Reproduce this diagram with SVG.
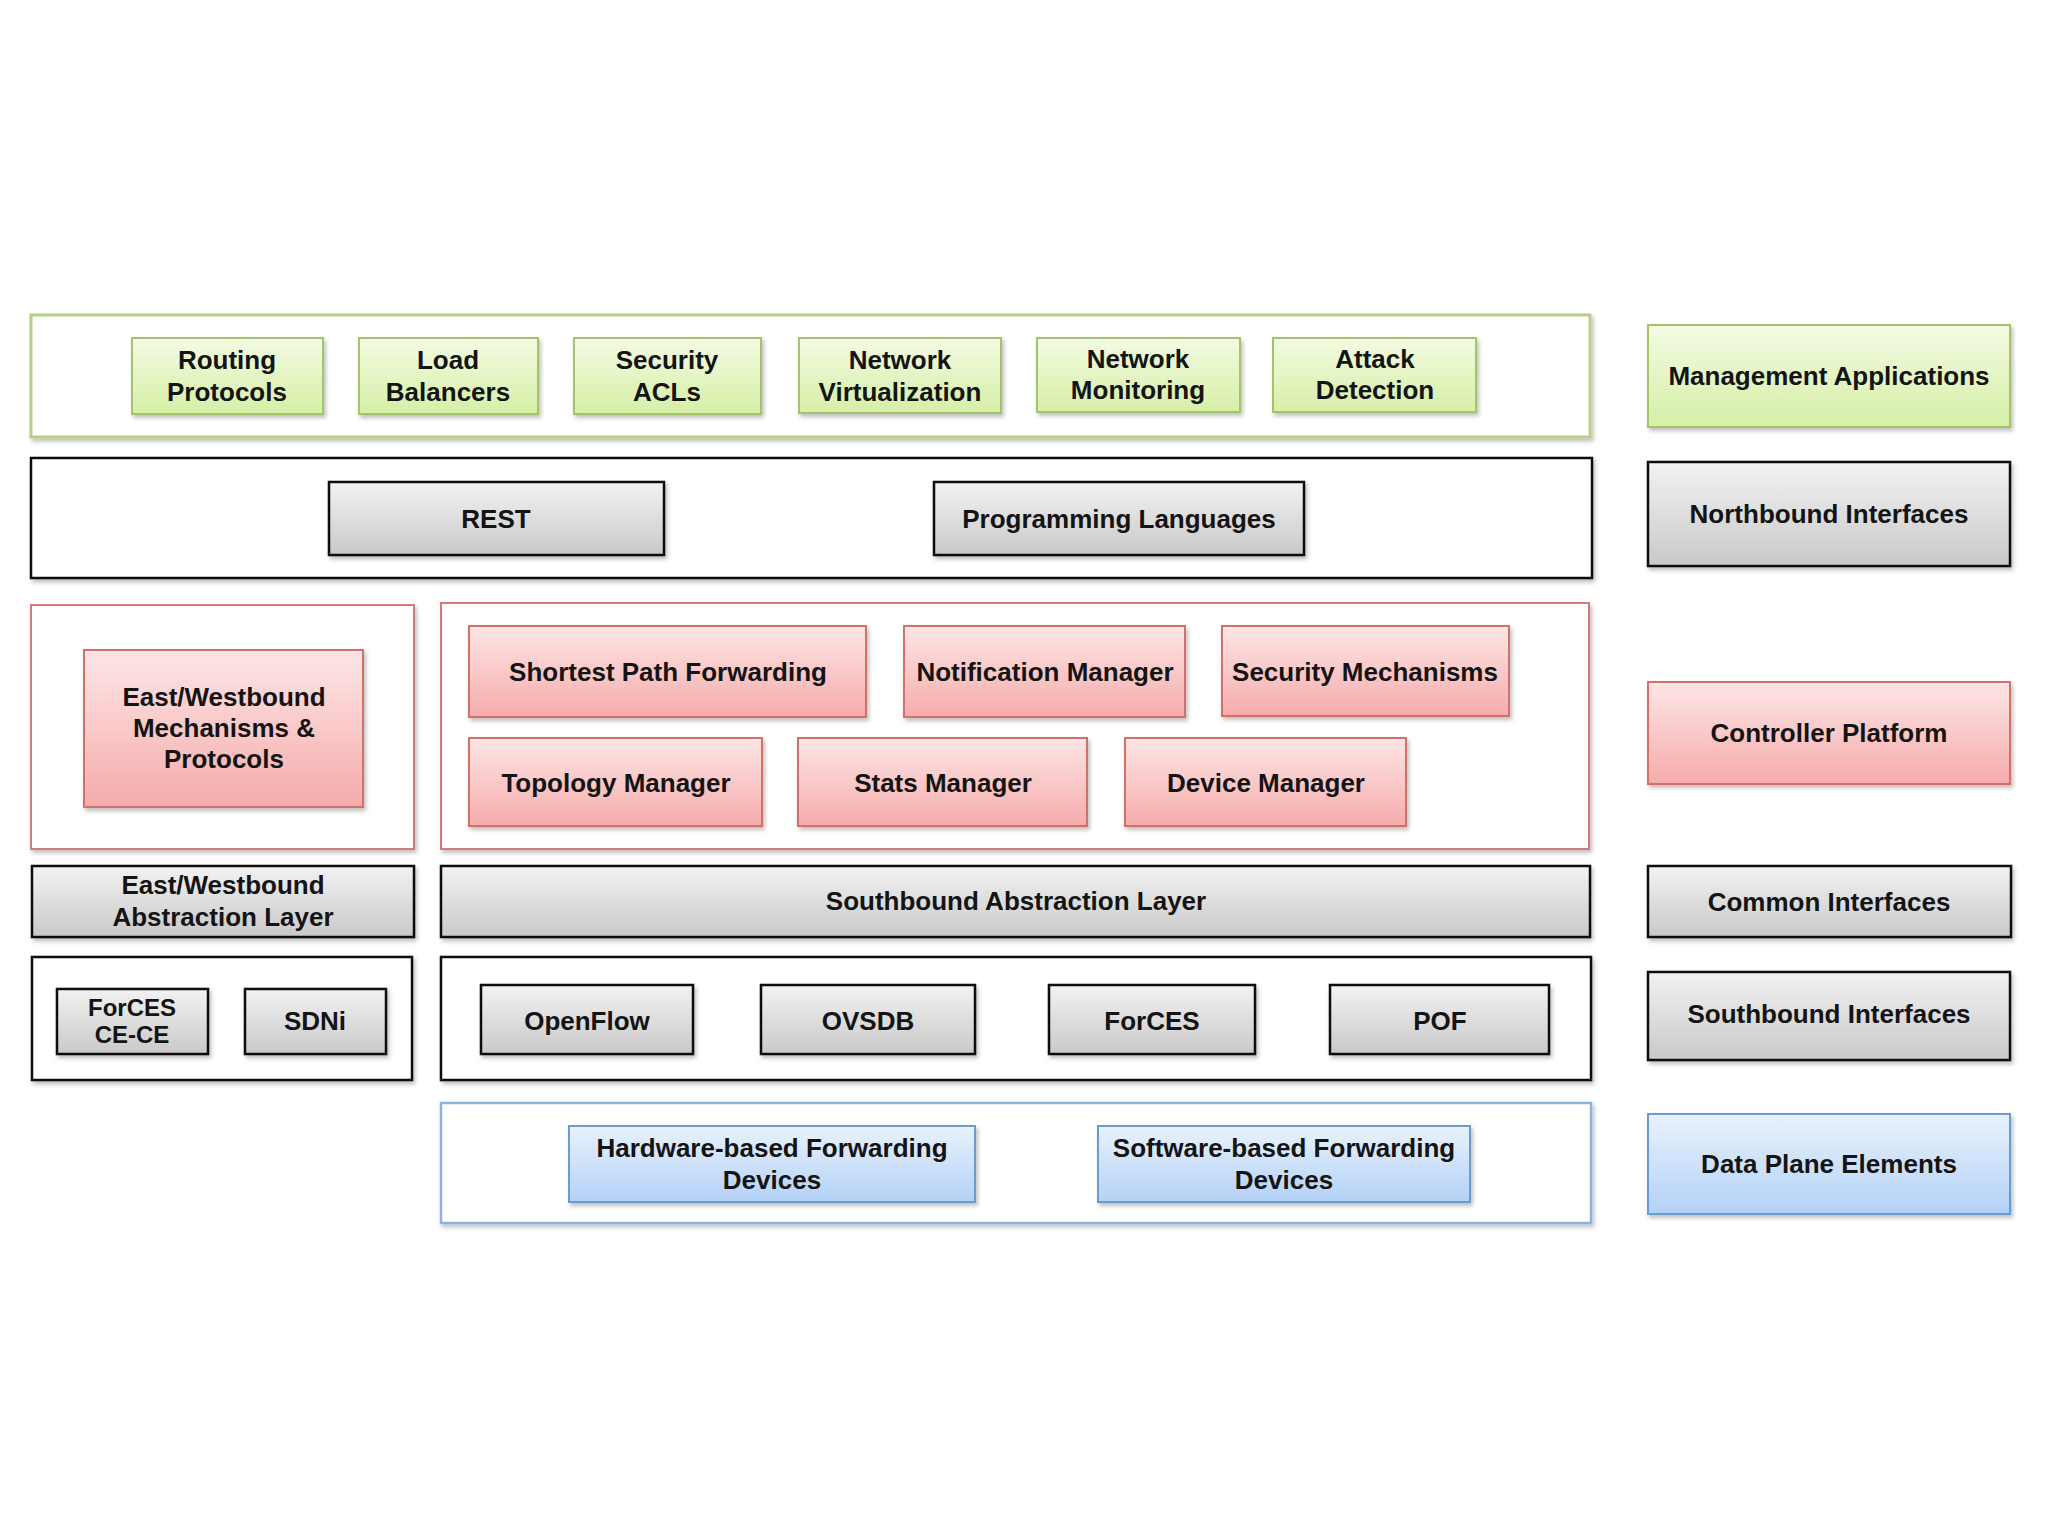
<svg xmlns="http://www.w3.org/2000/svg" width="2048" height="1536" viewBox="0 0 2048 1536">
<defs>
<linearGradient id="gG" x1="0" y1="0" x2="0" y2="1"><stop offset="0" stop-color="#f3fbe3"/><stop offset="1" stop-color="#d6efa6"/></linearGradient>
<linearGradient id="gR" x1="0" y1="0" x2="0" y2="1"><stop offset="0" stop-color="#fde6e6"/><stop offset="1" stop-color="#f6abab"/></linearGradient>
<linearGradient id="gB" x1="0" y1="0" x2="0" y2="1"><stop offset="0" stop-color="#e9f2fd"/><stop offset="1" stop-color="#b3d1f6"/></linearGradient>
<linearGradient id="gY" x1="0" y1="0" x2="0" y2="1"><stop offset="0" stop-color="#f2f2f2"/><stop offset="1" stop-color="#c9c9c9"/></linearGradient>
<filter id="sh" x="-5%" y="-10%" width="115%" height="130%"><feDropShadow dx="2" dy="3" stdDeviation="2" flood-color="#000" flood-opacity="0.25"/></filter>
</defs>
<style>
.t{font-family:"Liberation Sans",Arial,sans-serif;font-weight:bold;font-size:26px;fill:#141414;text-anchor:middle}
.s{font-size:24px}
.green{fill:url(#gG);stroke:#a5c36a;stroke-width:2;filter:url(#sh)}
.red{fill:url(#gR);stroke:#d46f6b;stroke-width:2;filter:url(#sh)}
.blue{fill:url(#gB);stroke:#6c9bd0;stroke-width:2;filter:url(#sh)}
.gray{fill:url(#gY);stroke:#111;stroke-width:2.5;filter:url(#sh)}
.ogreen{fill:#fff;stroke:#b6cf86;stroke-width:3;filter:url(#sh)}
.oblack{fill:#fff;stroke:#111;stroke-width:2.5;filter:url(#sh)}
.ored{fill:#fff;stroke:#d47a7a;stroke-width:2;filter:url(#sh)}
.oblue{fill:#fff;stroke:#8eb1d9;stroke-width:2.5;filter:url(#sh)}
</style>
<rect width="2048" height="1536" fill="#fff"/>

<g id="layers">
<g id="apps-layer"><rect class="ogreen" x="31" y="315" width="1559" height="122"/></g>
<g id="nb-layer"><rect class="oblack" x="31" y="458" width="1561" height="120"/></g>
<g id="ew-layer"><rect class="ored" x="31" y="605" width="383" height="244"/></g>
<g id="ctrl-layer"><rect class="ored" x="441" y="603" width="1148" height="246"/></g>
<g id="ew-if-layer"><rect class="oblack" x="32" y="957" width="380" height="123"/></g>
<g id="sb-if-layer"><rect class="oblack" x="441" y="957" width="1150" height="123"/></g>
<g id="dp-layer"><rect class="oblue" x="441" y="1103" width="1150" height="120"/></g>
</g>

<g id="routing"><rect class="green" x="132" y="338" width="191" height="76"/><text class="t" x="227" y="369">Routing</text><text class="t" x="227" y="401">Protocols</text></g>
<g id="load"><rect class="green" x="359" y="338" width="179" height="76"/><text class="t" x="448" y="369">Load</text><text class="t" x="448" y="401">Balancers</text></g>
<g id="acls"><rect class="green" x="574" y="338" width="187" height="76"/><text class="t" x="667" y="369">Security</text><text class="t" x="667" y="401">ACLs</text></g>
<g id="netvirt"><rect class="green" x="799" y="338" width="202" height="75"/><text class="t" x="900" y="369">Network</text><text class="t" x="900" y="401">Virtualization</text></g>
<g id="netmon"><rect class="green" x="1037" y="338" width="203" height="74"/><text class="t" x="1138" y="368">Network</text><text class="t" x="1138" y="399">Monitoring</text></g>
<g id="attack"><rect class="green" x="1273" y="338" width="203" height="74"/><text class="t" x="1375" y="368">Attack</text><text class="t" x="1375" y="399">Detection</text></g>

<g id="rest"><rect class="gray" x="329" y="482" width="335" height="73"/><text class="t" x="496" y="528">REST</text></g>
<g id="proglang"><rect class="gray" x="934" y="482" width="370" height="73"/><text class="t" x="1119" y="528">Programming Languages</text></g>

<g id="ew-mech"><rect class="red" x="84" y="650" width="279" height="157"/><text class="t" x="224" y="706">East/Westbound</text><text class="t" x="224" y="737">Mechanisms &amp;</text><text class="t" x="224" y="768">Protocols</text></g>
<g id="shortest"><rect class="red" x="469" y="626" width="397" height="91"/><text class="t" x="668" y="681">Shortest Path Forwarding</text></g>
<g id="notification"><rect class="red" x="904" y="626" width="281" height="91"/><text class="t" x="1045" y="681">Notification Manager</text></g>
<g id="secmech"><rect class="red" x="1222" y="626" width="287" height="90"/><text class="t" x="1365" y="681">Security Mechanisms</text></g>
<g id="topology"><rect class="red" x="469" y="738" width="293" height="88"/><text class="t" x="616" y="792">Topology Manager</text></g>
<g id="stats"><rect class="red" x="798" y="738" width="289" height="88"/><text class="t" x="943" y="792">Stats Manager</text></g>
<g id="device"><rect class="red" x="1125" y="738" width="281" height="88"/><text class="t" x="1266" y="792">Device Manager</text></g>

<g id="ew-abs"><rect class="gray" x="32" y="866" width="382" height="71"/><text class="t" x="223" y="894">East/Westbound</text><text class="t" x="223" y="926">Abstraction Layer</text></g>
<g id="sb-abs"><rect class="gray" x="441" y="866" width="1149" height="71"/><text class="t" x="1016" y="910">Southbound Abstraction Layer</text></g>

<g id="forces-cece"><rect class="gray" x="57" y="989" width="151" height="65"/><text class="t s" x="132" y="1016">ForCES</text><text class="t s" x="132" y="1043">CE-CE</text></g>
<g id="sdni"><rect class="gray" x="245" y="989" width="141" height="65"/><text class="t" x="315" y="1030">SDNi</text></g>
<g id="openflow"><rect class="gray" x="481" y="985" width="212" height="69"/><text class="t" x="587" y="1030">OpenFlow</text></g>
<g id="ovsdb"><rect class="gray" x="761" y="985" width="214" height="69"/><text class="t" x="868" y="1030">OVSDB</text></g>
<g id="forces"><rect class="gray" x="1049" y="985" width="206" height="69"/><text class="t" x="1152" y="1030">ForCES</text></g>
<g id="pof"><rect class="gray" x="1330" y="985" width="219" height="69"/><text class="t" x="1440" y="1030">POF</text></g>

<g id="hw-fwd"><rect class="blue" x="569" y="1126" width="406" height="76"/><text class="t" x="772" y="1157">Hardware-based Forwarding</text><text class="t" x="772" y="1189">Devices</text></g>
<g id="sw-fwd"><rect class="blue" x="1098" y="1126" width="372" height="76"/><text class="t" x="1284" y="1157">Software-based Forwarding</text><text class="t" x="1284" y="1189">Devices</text></g>

<g id="mgmt-apps"><rect class="green" x="1648" y="325" width="362" height="102"/><text class="t" x="1829" y="385">Management Applications</text></g>
<g id="nb-if"><rect class="gray" x="1648" y="462" width="362" height="104"/><text class="t" x="1829" y="523">Northbound Interfaces</text></g>
<g id="ctrl-platform"><rect class="red" x="1648" y="682" width="362" height="102"/><text class="t" x="1829" y="742">Controller Platform</text></g>
<g id="common-if"><rect class="gray" x="1648" y="866" width="363" height="71"/><text class="t" x="1829" y="911">Common Interfaces</text></g>
<g id="sb-if"><rect class="gray" x="1648" y="972" width="362" height="88"/><text class="t" x="1829" y="1023">Southbound Interfaces</text></g>
<g id="dp-elements"><rect class="blue" x="1648" y="1114" width="362" height="100"/><text class="t" x="1829" y="1173">Data Plane Elements</text></g>

<g id="connectors"></g>
</svg>
